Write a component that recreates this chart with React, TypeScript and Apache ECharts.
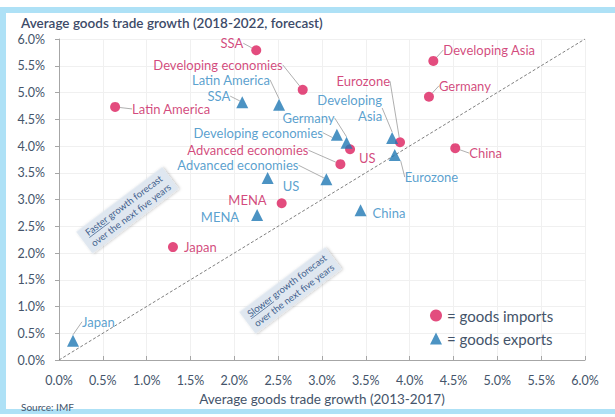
import React, { useEffect, useRef } from "react";
import * as echarts from "echarts";

// ---------- data ----------
const importNames = ["SSA", "Developing economies", "Latin America", "Developing Asia", "Germany", "Eurozone", "US", "Advanced economies", "China", "MENA", "Japan"];
const importX = [2.25, 2.78, 0.64, 4.27, 4.22, 3.89, 3.32, 3.21, 4.52, 2.54, 1.30];
const importY = [5.79, 5.05, 4.73, 5.59, 4.92, 4.07, 3.94, 3.66, 3.96, 2.93, 2.11];

const exportNames = ["SSA", "Latin America", "Developing economies", "Germany", "Developing\nAsia", "Eurozone", "Advanced economies", "US", "MENA", "China", "Japan"];
const exportX = [2.09, 2.51, 3.17, 3.28, 3.80, 3.83, 3.05, 2.38, 2.26, 3.44, 0.16];
const exportY = [4.82, 4.77, 4.21, 4.06, 4.15, 3.83, 3.38, 3.40, 2.71, 2.80, 0.36];

const diagonal = [[0, 0], [6, 6]];
const axisMin = 0;
const axisMax = 6;
const axisStep = 0.5;

const titleText = "Average goods trade growth (2018-2022, forecast)";
const xAxisName = "Average goods trade growth (2013-2017)";
const sourceText = "Source: IMF";
const importLegend = "= goods imports";
const exportLegend = "= goods exports";

// label placement: [align, dx, dy, leaderLine]
const importPlace: [string, number, number, boolean][] = [
  ["right", -13, -7, true],
  ["right", -20, -25, true],
  ["left", 17, 2, true],
  ["left", 10, -11, true],
  ["left", 10, -11, true],
  ["right", -10, -61, true],
  ["left", 9, 9, false],
  ["right", -32, -14, true],
  ["left", 14, 5, true],
  ["right", -15, -3, false],
  ["left", 11, 0, false],
];
const exportPlace: [string, number, number, boolean][] = [
  ["right", -12, -6, true],
  ["right", -9, -25, true],
  ["right", -14, -2, true],
  ["right", -12, -25, true],
  ["right", -10, -30, true],
  ["left", 10, 22, true],
  ["right", -28, -14, true],
  ["left", 15, 8, false],
  ["right", -18, 2, false],
  ["left", 12, 3, false],
  ["left", 9, -19, true],
];

// annotation boxes, anchored in data coordinates
const annotations = [
  { at: [0.78, 2.8], first: "Faster", rest: " growth forecast", second: "over the next five years" },
  { at: [2.64, 1.3], first: "Slower", rest: " growth forecast", second: "over the next five years" },
];

const FONT = "Lato, 'Open Sans', sans-serif";
const IMPORT_COLOR = "#dc1f5e";
const IMPORT_TEXT = "#c8185c";
const EXPORT_COLOR = "#1f78b4";
const EXPORT_TEXT = "#2f88c2";
const AXIS_TEXT = "#44546a";

function measure(text: string, font: string) {
  const c = document.createElement("canvas").getContext("2d")!;
  c.font = font;
  return c.measureText(text).width;
}

export default function App() {
  const ref = useRef<HTMLDivElement>(null);
  useEffect(() => {
    const chart = echarts.init(ref.current!, null, { renderer: "svg" });
    const mk = (names: string[], xs: number[], ys: number[], place: [string, number, number, boolean][]) =>
      names.map((n, i) => ({
        name: n,
        value: [xs[i], ys[i]],
        label: { align: place[i][0], offset: [place[i][1], place[i][2]] },
        labelLine: { show: place[i][3] },
      }));

    const axisCommon = {
      type: "value",
      min: axisMin,
      max: axisMax,
      interval: axisStep,
      axisLine: { show: true, lineStyle: { color: "#a6a6a6", width: 1 } },
      axisTick: { show: true, length: 4, lineStyle: { color: "#a6a6a6" } },
      splitLine: { show: true, lineStyle: { color: "#f0f0f0", width: 1 } },
      axisLabel: {
        formatter: (v: number) => v.toFixed(1) + "%",
        color: AXIS_TEXT,
        fontSize: 12.5,
        fontFamily: FONT,
        margin: 14,
      },
    };

    const option: any = {
      animation: false,
      backgroundColor: "#ffffff",
      title: [
        {
          text: titleText,
          left: 16,
          top: 11,
          textStyle: { fontSize: 13.5, fontWeight: 600, color: "#3c4a68", fontFamily: FONT },
        },
        {
          text: sourceText,
          left: 16,
          top: 397,
          textStyle: { fontSize: 10, fontWeight: "normal", color: AXIS_TEXT, fontFamily: FONT },
        },
      ],
      legend: {
        orient: "vertical",
        left: 425,
        top: 303,
        itemWidth: 12,
        itemHeight: 12,
        itemGap: 8,
        data: [importLegend, exportLegend],
        textStyle: { fontSize: 15, color: AXIS_TEXT, fontFamily: FONT },
      },
      grid: { left: 59, right: 30, top: 39, bottom: 57, containLabel: false },
      xAxis: {
        ...axisCommon,
        axisTick: { show: true, inside: true, length: 4, lineStyle: { color: "#a6a6a6" } },
        name: xAxisName,
        nameLocation: "middle",
        nameGap: 24,
        nameTextStyle: { fontSize: 13.5, color: AXIS_TEXT, fontFamily: FONT },
      },
      yAxis: { ...axisCommon },
      series: [
        {
          type: "line",
          data: diagonal,
          symbol: "none",
          silent: true,
          lineStyle: { color: "#7f7f7f", width: 1, type: [3, 2] },
          z: 1,
        },
        {
          name: importLegend,
          type: "scatter",
          symbol: "circle",
          symbolSize: 10,
          itemStyle: { color: IMPORT_COLOR },
          data: mk(importNames, importX, importY, importPlace),
          label: {
            show: true,
            position: "inside",
            formatter: (p: any) => p.name,
            color: IMPORT_TEXT,
            fontSize: 13,
            fontFamily: FONT,
            verticalAlign: "middle",
          },
          labelLine: { show: false, lineStyle: { color: "#9a9a9a", width: 0.8 } },
          z: 3,
        },
        {
          name: exportLegend,
          type: "scatter",
          symbol: "triangle",
          symbolSize: 12,
          itemStyle: { color: EXPORT_COLOR },
          data: mk(exportNames, exportX, exportY, exportPlace),
          label: {
            show: true,
            position: "inside",
            formatter: (p: any) => p.name,
            color: EXPORT_TEXT,
            fontSize: 13,
            fontFamily: FONT,
            verticalAlign: "middle",
            lineHeight: 16,
          },
          labelLine: { show: false, lineStyle: { color: "#9a9a9a", width: 0.8 } },
          z: 3,
        },
      ],
    };
    chart.setOption(option);

    const annFont = "9.5px Lato";
    const angle = (37 * Math.PI) / 180;
    const groups = annotations.map((a) => {
      const [px, py] = chart.convertToPixel({ gridIndex: 0 }, a.at) as number[];
      const l1 = a.first + a.rest;
      const w1 = measure(l1, annFont);
      const wF = measure(a.first, annFont);
      const w2 = measure(a.second, annFont);
      const w = Math.max(w1, w2) + 10;
      const h = 27;
      return {
        type: "group",
        x: px,
        y: py,
        rotation: angle,
        children: [
          {
            type: "rect",
            shape: { x: -w / 2, y: -h / 2, width: w, height: h },
            style: { fill: "#dfe7f0", shadowBlur: 3, shadowColor: "rgba(0,0,0,0.25)", shadowOffsetX: 1, shadowOffsetY: 1 },
          },
          {
            type: "text",
            x: 0,
            y: -6,
            style: { text: l1, fill: "#3f5f8c", font: annFont, align: "center", verticalAlign: "middle" },
          },
          {
            type: "line",
            shape: { x1: -w1 / 2, y1: -1, x2: -w1 / 2 + wF, y2: -1 },
            style: { stroke: "#3f5f8c", lineWidth: 0.7 },
          },
          {
            type: "text",
            x: 0,
            y: 6,
            style: { text: a.second, fill: "#3f5f8c", font: annFont, align: "center", verticalAlign: "middle" },
          },
        ],
      };
    });

    const frame = [
      { type: "rect", shape: { x: 0, y: 7, width: 615, height: 6 }, style: { fill: "#aee1f6" } },
      { type: "rect", shape: { x: 0, y: 7, width: 6, height: 407 }, style: { fill: "#aee1f6" } },
      { type: "rect", shape: { x: 0, y: 409, width: 615, height: 5 }, style: { fill: "#aee1f6" } },
    ];

    chart.setOption({ graphic: [...frame, ...groups] });
    return () => chart.dispose();
  }, []);
  return <div ref={ref} style={{ position: "absolute", left: 0, top: 0, width: 615, height: 417 }} />;
}
